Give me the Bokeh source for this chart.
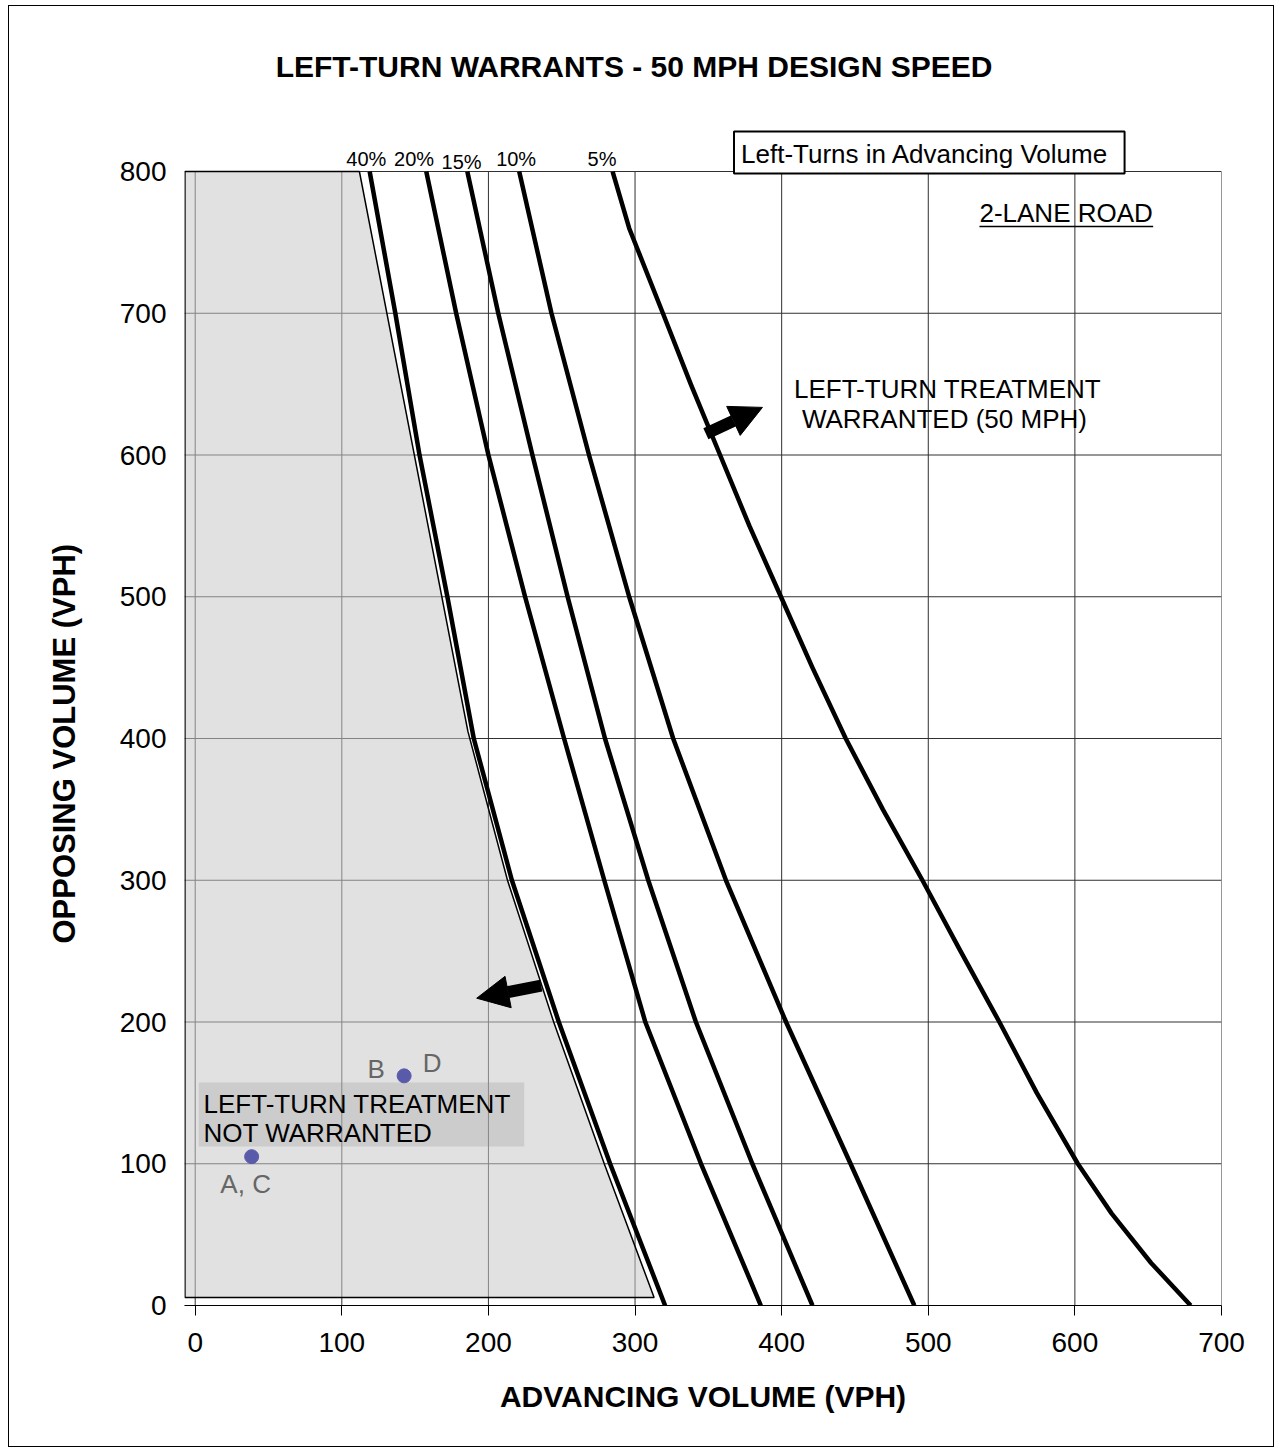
from math import pi
from bokeh.plotting import figure
from bokeh.models import Range1d, FixedTicker, Label, Arrow, NormalHead, Title
from bokeh.embed import file_html
from bokeh.resources import INLINE

FONT = "Liberation Sans"

# ---------------- data ----------------
title_text = "LEFT-TURN WARRANTS - 50 MPH DESIGN SPEED"
x_title = "ADVANCING VOLUME (VPH)"
y_title = "OPPOSING VOLUME (VPH)"
x_ticks = [0, 100, 200, 300, 400, 500, 600, 700]
y_ticks = [0, 100, 200, 300, 400, 500, 600, 700, 800]

levels = ["40%", "20%", "15%", "10%", "5%"]
opposing = [800, 700, 600, 500, 400, 300, 200, 100, 0]
adv_40 = [119, 136.5, 153, 172, 190, 216, 248, 283, 320.5]
adv_20 = [157.6, 178, 200, 225, 251.6, 279, 307, 345, 385.8]
adv_15 = [185.6, 206.7, 230, 254, 279.5, 309, 341.5, 380, 421]
adv_10 = [221, 243, 268.6, 296, 326, 362, 403, 447, 490.5]
opposing_5 = [800, 760, 700, 650, 600, 550, 500, 450, 400, 350, 300,
              250, 200, 150, 100, 65, 30, 0]
adv_5 = [284.7, 296, 319, 338, 358, 378, 399.5, 421, 443.7, 469, 496,
         522, 548.5, 574, 602, 625, 652, 679]

# "not warranted" shaded region boundary
shade_x = [-7, 112, 186, 213, 244.5, 279, 313, -7]
shade_y = [800, 800, 405, 300, 200, 100, 5.6, 5.6]

# intersections
pt_x = [38.5, 142.5]
pt_y = [105, 162]
pt_names = ["A, C", "B", "D"]

X0, X1 = -7.3, 700
Y0, Y1 = 0, 915

# ---------------- figure ----------------
p = figure(width=1266, height=1442, output_backend="svg", toolbar_location=None,
           x_range=Range1d(X0, X1), y_range=Range1d(Y0, Y1),
           min_border_left=174, min_border_right=54, min_border_top=2,
           min_border_bottom=143, background_fill_color="white",
           border_fill_color="white")
p.styles = {"border": "1px solid #000000", "margin": "5px 0px 0px 8px"}
p.title.visible = False
p.outline_line_color = None
p.xgrid.grid_line_color = None
p.ygrid.grid_line_color = None

# axes
p.xaxis.ticker = FixedTicker(ticks=x_ticks)
p.yaxis.ticker = FixedTicker(ticks=y_ticks)
for ax in (p.xaxis[0], p.yaxis[0]):
    ax.major_label_text_font = FONT
    ax.major_label_text_font_size = "28px"
    ax.major_label_text_color = "black"
    ax.minor_tick_line_color = None
p.xaxis.axis_line_color = "black"
p.xaxis.major_tick_line_color = "black"
p.xaxis.major_tick_out = 10
p.xaxis.major_tick_in = 0
p.xaxis.major_label_standoff = 17
p.xaxis.axis_label = x_title
p.xaxis.axis_label_text_font = FONT
p.xaxis.axis_label_text_font_size = "30px"
p.xaxis.axis_label_text_font_style = "bold"
p.xaxis.axis_label_text_color = "black"
p.xaxis.axis_label_standoff = 25
p.yaxis.axis_line_color = None
p.yaxis.major_tick_line_color = None
p.yaxis.major_tick_out = 0
p.yaxis.major_tick_in = 0
p.yaxis.major_label_standoff = 18

p.add_layout(Title(text=y_title, align="left", offset=362, standoff=70,
                   text_font=FONT, text_font_size="31px", text_font_style="bold",
                   text_color="black"), "left")

# grid lines, limited to the chart area
GRID = "#303030"
p.segment(x0=x_ticks, y0=[0] * len(x_ticks), x1=x_ticks, y1=[800] * len(x_ticks),
          line_color=GRID, line_width=1)
p.segment(x0=[X0] * len(y_ticks), y0=y_ticks, x1=[700] * len(y_ticks), y1=y_ticks,
          line_color=GRID, line_width=1)

# shaded region
p.patch(shade_x, shade_y, fill_color="#c9c9c9", fill_alpha=0.55,
        line_color="black", line_width=1.5)

# "not warranted" text box background
p.quad(left=2.4, right=224.4, bottom=112.2, top=157.3,
       fill_color="#909090", fill_alpha=0.25, line_color=None)

# curves
for xs, ys in [(adv_40, opposing), (adv_20, opposing), (adv_15, opposing),
               (adv_10, opposing), (adv_5, opposing_5)]:
    p.line(xs, ys, line_color="black", line_width=4.5, line_join="round")

# intersection points
p.scatter(pt_x, pt_y, size=14, fill_color="#5a5aaa", line_color="#5a5aaa")

def lab(x, y, text, size="26px", bold=False, color="black", align="left",
        baseline="middle", angle=0, **kw):
    l = Label(x=x, y=y, text=text, text_font=FONT, text_font_size=size,
              text_font_style="bold" if bold else "normal", text_color=color,
              text_align=align, text_baseline=baseline, angle=angle, **kw)
    p.add_layout(l)
    return l

# point labels
lab(pt_x[0], pt_y[0], pt_names[0], color="#666666", align="center", x_offset=-6, y_offset=-27)
lab(pt_x[1], pt_y[1], pt_names[1], color="#666666", align="center", x_offset=-28, y_offset=7)
lab(pt_x[1], pt_y[1], pt_names[2], color="#666666", align="center", x_offset=28, y_offset=13)

# percent labels above curves
pct_x = [116.7, 149.3, 181.7, 218.9, 277.5]
pct_dy = [13, 13, 10, 13, 13]
for t, x, dy in zip(levels, pct_x, pct_dy):
    lab(x, 800, t, size="20px", align="center", y_offset=dy)

# chart title
lab(299.3, 874, title_text, size="30px", bold=True, align="center")

# legend-like box
lab(367.5, 813.4, "Left-Turns in Advancing Volume",
    border_line_color="black", border_line_width=2,
    background_fill_color="white", padding=(7, 16, 7, 5))

# road type
lab(534.9, 771, "2-LANE ROAD")
p.line([534.9, 653.4], [761.2, 761.2], line_color="black", line_width=1.5)

# region texts
lab(408.4, 646.9, "LEFT-TURN TREATMENT")
lab(413.8, 625.7, "WARRANTED (50 MPH)")
lab(5.7, 142.5, "LEFT-TURN TREATMENT")
lab(5.7, 122.0, "NOT  WARRANTED")

# arrows
p.add_layout(Arrow(x_start=236, y_start=225.7, x_end=192, y_end=216.8,
                   line_width=12, line_color="black",
                   end=NormalHead(size=32, fill_color="black", line_color="black")))
p.add_layout(Arrow(x_start=348.3, y_start=615, x_end=386.9, y_end=633.6,
                   line_width=12, line_color="black",
                   end=NormalHead(size=32, fill_color="black", line_color="black")))

open("out.html", "w").write(file_html(p, INLINE))
